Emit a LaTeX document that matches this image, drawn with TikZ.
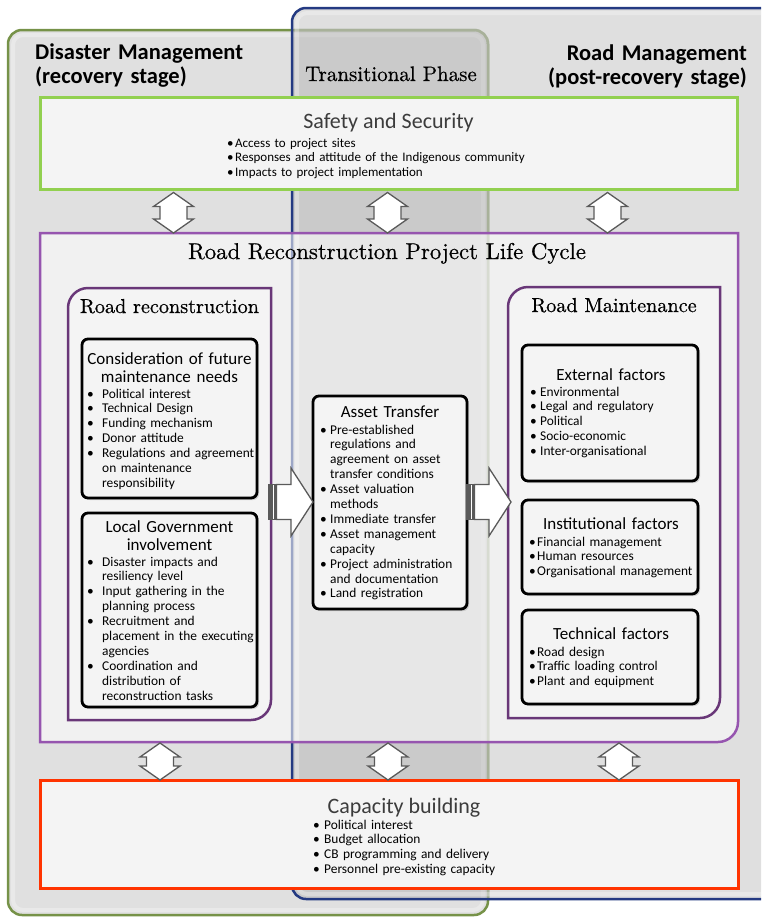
\documentclass[tikz,border=0pt]{standalone}
\usepackage{fontspec}
\setsansfont{Carlito}
\newfontfamily\ttlserif{lmroman10-regular.otf}[FakeBold=0.6]
\usetikzlibrary{shadows}
\definecolor{frgreen}{RGB}{118,146,72}
\definecolor{frblue}{RGB}{36,58,130}
\definecolor{ssgreen}{RGB}{146,208,80}
\definecolor{lcpurple}{RGB}{150,85,175}
\definecolor{inpurple}{RGB}{105,55,120}
\definecolor{cbred}{RGB}{255,51,0}
\definecolor{boxfill}{RGB}{244,244,244}
\definecolor{arrgray}{RGB}{90,90,90}
\definecolor{frfill}{RGB}{224,224,224}
\definecolor{ovfill}{RGB}{158,158,158}
\definecolor{fadegray}{RGB}{200,200,200}
\definecolor{lighttext}{RGB}{60,60,60}
\newlength\bw
\newcommand\BI{\makebox[\bw][l]{\textbullet}}
\newcommand\CI{\hspace*{\bw}}
\newcommand\vdarr[3]{%
  \draw[barrow] (#1,#2) -- (#1+20,#2+14) -- (#1+13.5,#2+14) -- (#1+13.5,#3-14) -- (#1+20,#3-14) -- (#1,#3) -- (#1-20,#3-14) -- (#1-13.5,#3-14) -- (#1-13.5,#2+14) -- (#1-20,#2+14) -- cycle;}
\newcommand\rarr[3]{%
  \draw[barrow] (#1,#3-17.5) rectangle (#1+2,#3+17.5);
  \draw[barrow] (#1+3.5,#3-17.5) rectangle (#1+6,#3+17.5);
  \draw[barrow] (#1+7.5,#3-17.5) -- (#2-22,#3-17.5) -- (#2-22,#3-34) -- (#2,#3) -- (#2-22,#3+34) -- (#2-22,#3+17.5) -- (#1+7.5,#3+17.5) -- cycle;}
\tikzset{
  barrow/.style={draw=arrgray, fill=white, line width=1.3pt, line join=miter},
  ibox/.style={draw=black, line width=2.8pt, rounded corners=6pt, fill=boxfill, inner sep=0pt,
    drop shadow={shadow xshift=2pt, shadow yshift=-2pt, opacity=0.3}},
  blist/.style={anchor=base west, inner sep=0pt, text width=#1, align=left,
    font=\sffamily\fontsize{13.4}{14.9}\selectfont},
  ititle/.style={anchor=base, inner sep=0pt, text width=200pt, align=center,
    font=\sffamily\fontsize{17}{18.5}\selectfont},
  stitle/.style={anchor=base, inner sep=0pt, font=\ttlserif\fontsize{20.2}{24}\selectfont},
  bigtitle/.style={anchor=base, inner sep=0pt, text=lighttext, font=\sffamily\fontsize{22}{24}\selectfont},
  innerglow/.style={white, opacity=0.3, line width=4pt, rounded corners=10pt},
}
\begin{document}
\begin{tikzpicture}[x=1pt,y=-1pt]
\useasboundingbox (0,0) rectangle (761,918);
\clip (0,0) rectangle (761,918);
\fill[white] (0,0) rectangle (761,918);
% phase frames
\draw[frgreen, line width=2.5pt, fill=frfill, rounded corners=14pt] (8,30) rectangle (488,915);
\draw[innerglow] (13,35) rectangle (483,910);
\draw[frblue, line width=2.5pt, rounded corners=14pt, fill=ovfill, fill opacity=0.32] (292,8) rectangle (800,899);
\begin{scope}
  \clip[rounded corners=14pt] (293.5,9.5) rectangle (800,897.5);
  \draw[fadegray, opacity=0.55, line width=2.7pt, rounded corners=14pt] (8,30) rectangle (488,915);
\end{scope}
\draw[innerglow] (297,13) rectangle (795,894);
% phase labels
\node[anchor=base west, inner sep=0pt, text width=260pt, align=left,
  font=\sffamily\bfseries\fontsize{22.5}{24}\selectfont] (dm) at (35,59) {Disaster Management\\(recovery stage)};
\node[anchor=base east, inner sep=0pt, text width=260pt, align=right,
  font=\sffamily\bfseries\fontsize{22.5}{24}\selectfont] (rm) at (747,60) {Road Management\\(post-recovery stage)};
\node[anchor=base, inner sep=0pt, font=\ttlserif\fontsize{21}{24}\selectfont] (tp) at (391,81) {Transitional Phase};
% safety and security
\node[draw=ssgreen, line width=3pt, fill=boxfill, minimum width=697pt, minimum height=92pt, inner sep=0pt,
  drop shadow={shadow xshift=2pt, shadow yshift=-2pt, opacity=0.25}] (safety) at (388.5,143) {};
\node[bigtitle] (safetyt) at (388.5,128) {Safety and Security};
\node[blist=320pt, font=\sffamily\fontsize{13}{14.7}\selectfont] (safetyl) at (227,147) {\setlength\bw{8pt}%
\BI Access to project sites\\
\BI Responses and attitude of the Indigenous community\\
\BI Impacts to project implementation};
% life cycle frame
\draw[lcpurple, line width=2.5pt, fill=white, fill opacity=0.55] (40,233) -- (738,233) -- (738,722) .. controls (738,733) and (729,742) .. (718,742) -- (40,742) -- cycle;
\node[anchor=base, inner sep=0pt, font=\ttlserif\fontsize{22.8}{26}\selectfont] (lct) at (387,259) {Road Reconstruction Project Life Cycle};
% road reconstruction
\draw[inpurple, line width=2.5pt, fill=boxfill] (68,720) -- (68,308) .. controls (68,297) and (77,288) .. (88,288) -- (271,288) -- (271,700) .. controls (271,711) and (262,720) .. (251,720) -- cycle;
\node[stitle] (rrt) at (169.5,313) {Road reconstruction};
% road maintenance
\draw[inpurple, line width=2.5pt, fill=boxfill] (508,718) -- (508,307) .. controls (508,296) and (517,287) .. (528,287) -- (720,287) -- (720,698) .. controls (720,709) and (711,718) .. (700,718) -- cycle;
\node[stitle] (rmt) at (614,312) {Road Maintenance};
% inner boxes
\node[ibox, minimum width=175pt, minimum height=159pt] (cons) at (169.5,418.5) {};
\node[ititle] (const) at (169.5,364) {Consideration of future\\maintenance needs};
\node[blist=170pt] (consl) at (87,398) {\setlength\bw{15pt}%
\BI Political interest\\
\BI Technical Design\\
\BI Funding mechanism\\
\BI Donor attitude\\
\BI Regulations and agreement\\
\CI on maintenance\\
\CI responsibility};
\node[ibox, minimum width=175pt, minimum height=194pt] (lgov) at (169.5,610) {};
\node[ititle] (lgovt) at (169.5,532) {Local Government\\involvement};
\node[blist=170pt] (lgovl) at (87,566) {\setlength\bw{15pt}%
\BI Disaster impacts and\\
\CI resiliency level\\
\BI Input gathering in the\\
\CI planning process\\
\BI Recruitment and\\
\CI placement in the executing\\
\CI agencies\\
\BI Coordination and\\
\CI distribution of\\
\CI reconstruction tasks};
\node[ibox, minimum width=154pt, minimum height=213pt] (asset) at (390,502.5) {};
\node[ititle] (assett) at (390,417) {Asset Transfer};
\node[blist=150pt] (assetl) at (320,434) {\setlength\bw{10pt}%
\BI Pre-established\\
\CI regulations and\\
\CI agreement on asset\\
\CI transfer conditions\\
\BI Asset valuation\\
\CI methods\\
\BI Immediate transfer\\
\BI Asset management\\
\CI capacity\\
\BI Project administration\\
\CI and documentation\\
\BI Land registration};
\node[ibox, minimum width=176pt, minimum height=136pt] (ext) at (610,413) {};
\node[ititle] (extt) at (611,380) {External factors};
\node[blist=170pt] (extl) at (530,396) {\setlength\bw{10pt}%
\BI Environmental\\
\BI Legal and regulatory\\
\BI Political\\
\BI Socio-economic\\
\BI Inter-organisational};
\node[ibox, minimum width=176pt, minimum height=94pt] (inst) at (610,547) {};
\node[ititle] (instt) at (611,529) {Institutional factors};
\node[blist=170pt] (instl) at (529,546) {\setlength\bw{8pt}%
\BI Financial management\\
\BI Human resources\\
\BI Organisational management};
\node[ibox, minimum width=176pt, minimum height=94pt] (tech) at (610,657) {};
\node[ititle] (techt) at (611,639) {Technical factors};
\node[blist=170pt] (techl) at (529,656) {\setlength\bw{8pt}%
\BI Road design\\
\BI Traffic loading control\\
\BI Plant and equipment};
% transfer arrows
\rarr{269}{313}{502}
\rarr{467}{511}{502}
% capacity building
\node[draw=cbred, line width=3pt, fill=boxfill, minimum width=698pt, minimum height=108pt, inner sep=0pt,
  drop shadow={shadow xshift=2pt, shadow yshift=-2pt, opacity=0.25}] (cb) at (389,834) {};
\node[bigtitle] (cbt) at (404,813) {Capacity building};
\node[blist=320pt] (cbl) at (313,829) {\setlength\bw{11pt}%
\BI Political interest\\
\BI Budget allocation\\
\BI CB programming and delivery\\
\BI Personnel pre-existing capacity};
% interaction arrows
\vdarr{173.5}{192.5}{233}
\vdarr{387.5}{192.5}{233}
\vdarr{607.5}{192.5}{233}
\vdarr{160}{743}{780}
\vdarr{388}{743}{780}
\vdarr{619}{743}{780}
\end{tikzpicture}
\end{document}
